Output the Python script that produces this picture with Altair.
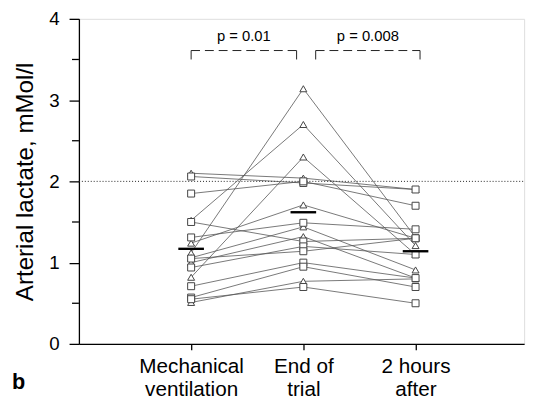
import altair as alt
import pandas as pd

# --- data ---
categories = ["Mechanical\nventilation", "End of\ntrial", "2 hours\nafter"]
cat_pos = [1, 2, 3]
shapes = ["triangle"] * 8 + ["square"] * 9
v_mv  = [2.10, 1.52, 1.12, 0.82, 1.24, 1.06, 1.00, 0.51,
         2.06, 1.85, 1.31, 1.50, 0.94, 1.05, 0.71, 0.57, 0.55]
v_end = [2.04, 2.70, 3.14, 2.30, 1.71, 1.44, 1.32, 0.77,
         1.98, 2.00, 1.49, 1.26, 1.20, 1.14, 1.00, 0.95, 0.70]
v_2h  = [1.90, 1.21, 1.31, 1.10, 1.30, 0.91, 0.81, 0.80,
         1.90, 1.70, 1.41, 1.30, 1.10, 1.30, 0.81, 0.70, 0.50]
means = [1.17, 1.62, 1.14]
ref_level = 2.0
p_texts = ["p = 0.01", "p = 0.008"]
br_x1 = [1.0, 2.11]
br_x2 = [1.94, 3.04]
br_top = 3.61
br_bot = 3.50
p_y = 3.69

FONT = "Liberation Sans"

rows = []
for i, (s, a, b, c) in enumerate(zip(shapes, v_mv, v_end, v_2h)):
    for pos, v in zip(cat_pos, (a, b, c)):
        rows.append({"subject": i, "shape": s, "x": pos, "y": v})
df = pd.DataFrame(rows)
df_mean = pd.DataFrame({"x": cat_pos, "y": means})
df_ref = pd.DataFrame({"y": [ref_level]})
df_br = pd.DataFrame({"x1": br_x1, "x2": br_x2, "top": [br_top] * 2,
                      "bot": [br_bot] * 2, "xm": [(a + b) / 2 for a, b in zip(br_x1, br_x2)],
                      "py": [p_y] * 2, "label": p_texts})
df_minor = pd.DataFrame({"y": [0.5, 1.5, 2.5, 3.5]})

label_expr = " : ".join(
    f"datum.value == {p} ? {str(lab.split(chr(10)))}" for p, lab in zip(cat_pos, categories)
) + " : ''"

W = 452
xscale = alt.Scale(domain=[0, 3.95 * W / 450], nice=False)
yscale = alt.Scale(domain=[0, 4], nice=False)

x_axis = alt.Axis(values=cat_pos, labelExpr=label_expr, title=None, grid=False,
                  tickSize=6, labelFontSize=21, labelFont=FONT, labelColor="black",
                  labelLineHeight=23, labelPadding=6, domainColor="black",
                  tickColor="black", domainWidth=1.3, tickWidth=1.3, labelAngle=0)
y_axis = alt.Axis(values=[0, 1, 2, 3, 4], format="d", title="Arterial lactate, mMol/l",
                  grid=False, tickSize=10, labelFontSize=19, labelFont=FONT,
                  labelColor="black", labelPadding=10, titleFont=FONT, titleFontSize=24.5,
                  titleFontWeight="normal", titleColor="black", titlePadding=12,
                  domainColor="black", tickColor="black", domainWidth=1.3, tickWidth=1.3)

base = alt.Chart(df)

lines = base.mark_line(color="#555555", strokeWidth=0.8).encode(
    x=alt.X("x:Q", scale=xscale, axis=x_axis),
    y=alt.Y("y:Q", scale=yscale, axis=y_axis),
    detail="subject:N",
    order="x:Q",
)

points = base.mark_point(filled=True, fill="white", stroke="#444444",
                         strokeWidth=1, opacity=1, size=50).encode(
    x=alt.X("x:Q", scale=xscale),
    y=alt.Y("y:Q", scale=yscale),
    shape=alt.Shape("shape:N", scale=alt.Scale(domain=["square", "triangle"],
                                               range=["square", "triangle-up"]),
                    legend=None),
)

mean_ticks = alt.Chart(df_mean).mark_tick(orient="horizontal", size=26, thickness=2.4,
                                          color="black", opacity=1).encode(
    x=alt.X("x:Q", scale=xscale), y=alt.Y("y:Q", scale=yscale))

ref = alt.Chart(df_ref).mark_rule(color="#222222", strokeDash=[1, 2], strokeWidth=1).encode(
    y=alt.Y("y:Q", scale=yscale), x=alt.value(0), x2=alt.value(W))

minor = alt.Chart(df_minor).mark_rule(color="black", strokeWidth=1.3).encode(
    y=alt.Y("y:Q", scale=yscale), x=alt.value(-7), x2=alt.value(0))

br_h = alt.Chart(df_br).mark_rule(color="#222222", strokeDash=[9, 5], strokeWidth=1).encode(
    x=alt.X("x1:Q", scale=xscale), x2="x2:Q", y=alt.Y("top:Q", scale=yscale))
br_l = alt.Chart(df_br).mark_rule(color="#222222", strokeWidth=1).encode(
    x=alt.X("x1:Q", scale=xscale), y=alt.Y("top:Q", scale=yscale), y2="bot:Q")
br_r = alt.Chart(df_br).mark_rule(color="#222222", strokeWidth=1).encode(
    x=alt.X("x2:Q", scale=xscale), y=alt.Y("top:Q", scale=yscale), y2="bot:Q")
p_lab = alt.Chart(df_br).mark_text(font=FONT, fontSize=15, baseline="bottom",
                                   color="black").encode(
    x=alt.X("xm:Q", scale=xscale), y=alt.Y("py:Q", scale=yscale), text="label:N")

panel = alt.Chart(pd.DataFrame({"t": ["b"]})).mark_text(
    font=FONT, fontSize=22, fontWeight="bold", align="left", baseline="alphabetic",
    color="black").encode(x=alt.value(-68), y=alt.value(376), text="t:N")

chart = alt.layer(ref, lines, points, mean_ticks, minor, br_h, br_l, br_r, p_lab, panel).properties(
    width=W, height=330,
    padding={"left": 72, "top": 8, "right": 8, "bottom": 57},
    autosize="none",
).configure_view(stroke=None).configure(background="white")

chart.save("out.html", embed_options={"renderer": "svg", "actions": False})
